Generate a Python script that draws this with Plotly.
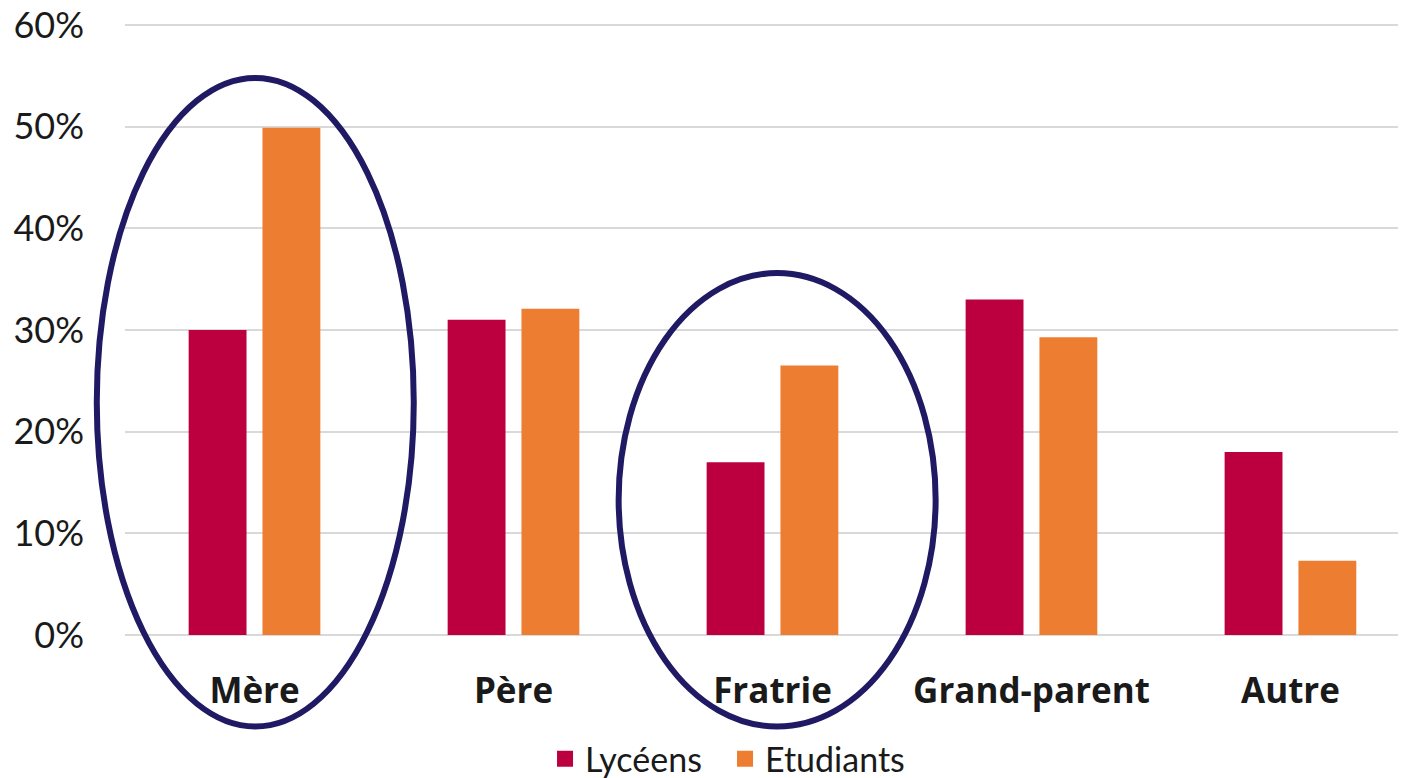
import plotly.graph_objects as go

categories = ["Mère", "Père", "Fratrie", "Grand-parent", "Autre"]
lyceens = [0.30, 0.31, 0.17, 0.33, 0.18]
etudiants = [0.499, 0.321, 0.265, 0.293, 0.073]
y_ticks = [0, 0.1, 0.2, 0.3, 0.4, 0.5, 0.6]
y_ticklabels = ["0%", "10%", "20%", "30%", "40%", "50%", "60%"]
highlighted = ["Mère", "Fratrie"]
series_names = ["Lycéens", "Etudiants"]
series_colors = ["#BC003F", "#ED7D31"]

FONT = "Lato"
X_RANGE = [-0.5, 4.477]
Y_RANGE = [0, 0.602]

fig = go.Figure()
for name, vals, col in zip(series_names, [lyceens, etudiants], series_colors):
    fig.add_trace(go.Bar(x=categories, y=vals, name=name, showlegend=False,
                         marker=dict(color=col, line=dict(width=0))))
# legend entries with larger square symbols
for name, col in zip(series_names, series_colors):
    fig.add_trace(go.Scatter(x=[None], y=[None], mode="markers", name=name,
                             marker=dict(symbol="square", size=20, color=col)))


def px_x(v):
    return (v - X_RANGE[0]) / (X_RANGE[1] - X_RANGE[0])


def px_y(v):
    return (v - Y_RANGE[0]) / (Y_RANGE[1] - Y_RANGE[0])


# ellipses around highlighted categories (paper coords so they are not clipped)
ell_top = {"Mère": 0.548, "Fratrie": 0.356}
ell_center_shift = {"Mère": 0.003, "Fratrie": 0.018}
for c in highlighted:
    i = categories.index(c) + ell_center_shift[c]
    fig.add_shape(type="circle", xref="paper", yref="paper",
                  x0=px_x(i - 0.612), x1=px_x(i + 0.612),
                  y0=px_y(-0.09), y1=px_y(ell_top[c]),
                  line=dict(color="#1F1A63", width=6), layer="above")

fig.update_layout(
    width=1406, height=778,
    margin=dict(l=117, r=0, t=15, b=151, autoexpand=False),
    paper_bgcolor="white", plot_bgcolor="white",
    barmode="group", bargap=0.43, bargroupgap=0.216,
    font=dict(family=FONT, color="#1a1a1a"),
    showlegend=True,
    legend=dict(orientation="h", x=0.4655, xanchor="center", y=-0.203, yanchor="middle",
                font=dict(size=34, family=FONT, color="#1a1a1a"),
                traceorder="normal", itemsizing="trace", entrywidth=135),
)
fig.update_xaxes(type="category", range=X_RANGE, showgrid=False, automargin=False,
                 showline=False, ticks="",
                 tickfont=dict(size=35, family="Open Sans", weight="bold", color="#1a1a1a"),
                 ticklabelstandoff=32)
fig.update_yaxes(range=Y_RANGE, tickvals=y_ticks, ticktext=y_ticklabels, automargin=False,
                 ticklabeloverflow="allow",
                 showgrid=True, gridcolor="#D9D9D9", gridwidth=1.5,
                 zeroline=True, zerolinecolor="#D9D9D9", zerolinewidth=1.5,
                 showline=False, ticks="", tickfont=dict(size=36, family=FONT, color="#1a1a1a"),
                 ticklabelstandoff=40)

fig.write_html("out.html")
